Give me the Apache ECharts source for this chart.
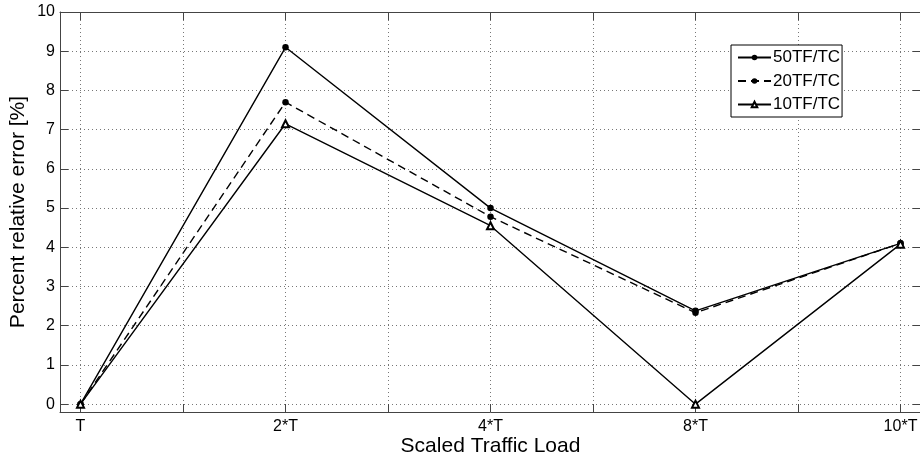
<!DOCTYPE html>
<html>
<head>
<meta charset="utf-8">
<script src="https://cdn.jsdelivr.net/npm/echarts@6/dist/echarts.min.js"></script>
<style>
    html, body { margin: 0; padding: 0; background: #fff; }
    #chart { width: 920px; height: 460px; }
</style>
</head>
<body>
<div id="chart"></div>
<script>
// category labels along x (placed at index 0..4)
const categories = ['T', '2*T', '4*T', '8*T', '10*T'];
const xTickValues = [0, 0.5, 1, 1.5, 2, 2.5, 3, 3.5, 4];
const xLabelValues = [0, 1, 2, 3, 4];
const yTickValues = [0, 1, 2, 3, 4, 5, 6, 7, 8, 9, 10];

const seriesNames = ['50TF/TC', '20TF/TC', '10TF/TC'];
const tf50 = [0, 9.1, 5.0, 2.38, 4.1];
const tf20 = [0, 7.7, 4.78, 2.33, 4.1];
const tf10 = [0, 7.15, 4.55, 0, 4.08];

const font = 'Liberation Sans, Arial, sans-serif';
const axisColor = '#444';

const toPoints = vals => vals.map((v, i) => [i, v]);

const gridLine = {
    show: true,
    lineStyle: {color: '#777', width: 1, type: [1, 3]},
};

const myChart = echarts.init(document.getElementById('chart'));

const options = {
    animation: false,
    backgroundColor: '#fff',
    textStyle: {fontFamily: font, color: '#000'},
    grid: {left: 60, right: -1, top: 12, bottom: 48, containLabel: false, outerBoundsMode: 'none'},
    legend: {
        orient: 'vertical',
        left: 731,
        top: 45,
        padding: [4, 2, 4, 6],
        itemWidth: 33,
        itemHeight: 7,
        itemGap: 6.5,
        borderColor: '#000',
        borderWidth: 1,
        backgroundColor: '#fff',
        textStyle: {fontFamily: font, fontSize: 17, color: '#000', padding: [0, 0, 0, -3]},
        data: seriesNames,
    },
    xAxis: [
        {
            type: 'value',
            min: -0.1,
            max: 4.1,
            position: 'bottom',
            name: 'Scaled Traffic Load',
            nameLocation: 'middle',
            nameGap: 24,
            nameMoveOverlap: false,
            nameTextStyle: {fontFamily: font, fontSize: 21, color: '#000'},
            axisLine: {show: true, onZero: false, lineStyle: {color: axisColor, width: 1}},
            axisTick: {show: true, inside: true, length: 8, customValues: xTickValues, lineStyle: {color: axisColor}},
            axisLabel: {
                show: true,
                customValues: xLabelValues,
                margin: 7,
                fontFamily: font,
                fontSize: 16,
                color: '#000',
                formatter: v => categories[Math.round(v)] || '',
            },
            splitLine: gridLine,
        },
        {
            type: 'value',
            min: -0.1,
            max: 4.1,
            position: 'top',
            axisLine: {show: true, onZero: false, lineStyle: {color: axisColor, width: 1}},
            axisTick: {show: true, inside: true, length: 8, customValues: xTickValues, lineStyle: {color: axisColor}},
            axisLabel: {show: false},
            splitLine: {show: false},
        },
    ],
    yAxis: [
        {
            type: 'value',
            min: -0.2,
            max: 10,
            position: 'left',
            name: 'Percent relative error [%]',
            nameLocation: 'middle',
            nameGap: 31,
            nameMoveOverlap: false,
            nameTextStyle: {fontFamily: font, fontSize: 21, color: '#000'},
            axisLine: {show: true, onZero: false, lineStyle: {color: axisColor, width: 1}},
            axisTick: {show: true, inside: true, length: 8, customValues: yTickValues, lineStyle: {color: axisColor}},
            axisLabel: {show: true, customValues: yTickValues, margin: 5, fontFamily: font, fontSize: 16, color: '#000'},
            splitLine: gridLine,
        },
        {
            type: 'value',
            min: -0.2,
            max: 10,
            position: 'right',
            axisLine: {show: true, onZero: false, lineStyle: {color: axisColor, width: 1}},
            axisTick: {show: true, inside: true, length: 8, customValues: yTickValues, lineStyle: {color: axisColor}},
            axisLabel: {show: false},
            splitLine: {show: false},
        },
    ],
    series: [
        {
            name: seriesNames[0],
            type: 'line',
            data: toPoints(tf50),
            symbol: 'circle',
            symbolSize: 6.5,
            itemStyle: {color: '#000'},
            lineStyle: {color: '#000', width: 1.4, type: 'solid'},
        },
        {
            name: seriesNames[1],
            type: 'line',
            data: toPoints(tf20),
            symbol: 'circle',
            symbolSize: 6.5,
            itemStyle: {color: '#000'},
            lineStyle: {color: '#000', width: 1.4, type: [8, 5]},
        },
        {
            name: seriesNames[2],
            type: 'line',
            data: toPoints(tf10),
            symbol: 'emptyTriangle',
            symbolSize: 7,
            itemStyle: {color: '#000', borderColor: '#000', borderWidth: 1},
            lineStyle: {color: '#000', width: 1.4, type: 'solid'},
        },
    ],
};

myChart.setOption(options);
</script>
</body>
</html>
